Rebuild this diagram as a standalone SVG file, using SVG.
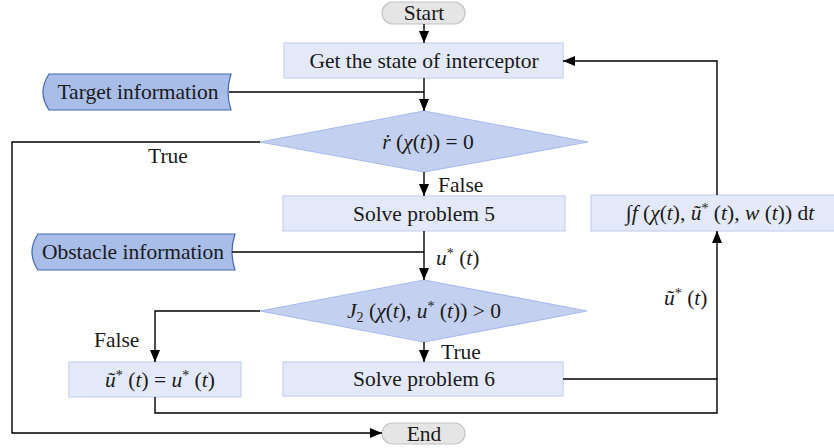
<svg xmlns="http://www.w3.org/2000/svg" width="834" height="448" viewBox="0 0 834 448" font-family="'Liberation Serif', 'DejaVu Serif', serif">
<defs>
<marker id="ah" markerUnits="userSpaceOnUse" markerWidth="12" markerHeight="10" refX="12" refY="5" orient="auto">
<path d="M0,0 L12,5 L0,10 Z" fill="#000"/>
</marker>
<style>
text{font-family:'Liberation Serif','DejaVu Serif',serif;font-size:21.5px;fill:#1a1a1a}
.c{text-anchor:middle}
.i{font-style:italic}
.sup{font-size:14px}
.box{fill:#e3e9f8;stroke:#c6d3f1;stroke-width:1.2}
.dia{fill:#c4d0f0;stroke:#a9bbea;stroke-width:1.2}
.tape{fill:#a8bde8;stroke:#4468b0;stroke-width:1.2}
.pill{fill:#e5e5e5;stroke:#c4c4c4;stroke-width:1.2}
.ln{fill:none;stroke:#000;stroke-width:1.4}
.ar{marker-end:url(#ah)}
</style>
</defs>
<g id="start"><rect class="pill" x="382" y="2" width="83" height="22" rx="11"/><text class="c" x="424" y="20">Start</text></g>
<g id="getstate"><rect class="box" x="284" y="43" width="279" height="35"/><text class="c" x="424" y="68">Get the state of interceptor</text></g>
<g id="target"><path class="tape" d="M49,74 L231,74 Q225,92 231,110 L49,110 Q37,92 49,74 Z"/><text class="c" x="138" y="99">Target information</text></g>
<g id="dec1"><path class="dia" d="M424,111 L588,142 L424,172 L260,142 Z"/><text class="c" x="428" y="149"><tspan class="i">ṙ</tspan> (<tspan class="i">χ</tspan>(<tspan class="i">t</tspan>)) = 0</text></g>
<g id="solve5"><rect class="box" x="283" y="196" width="282" height="35"/><text class="c" x="424" y="221">Solve problem 5</text></g>
<g id="obstacle"><path class="tape" d="M38,234 L235,234 Q229,252 235,270 L38,270 Q26,252 38,234 Z"/><text class="c" x="133" y="259">Obstacle information</text></g>
<g id="dec2"><path class="dia" d="M424,280 L587,311 L424,342 L260,311 Z"/><text class="c" x="424" y="318"><tspan class="i">J</tspan><tspan class="sup" dy="4">2</tspan><tspan dy="-4"> (</tspan><tspan class="i">χ</tspan>(<tspan class="i">t</tspan>), <tspan class="i">u</tspan><tspan class="sup" dy="-7">*</tspan><tspan dy="7"> (</tspan><tspan class="i">t</tspan>)) &gt; 0</text></g>
<g id="assign"><rect class="box" x="69" y="362" width="172" height="35"/><text class="c" x="160" y="387"><tspan class="i">ũ</tspan><tspan class="sup" dy="-7">*</tspan><tspan dy="7"> (</tspan><tspan class="i">t</tspan>) = <tspan class="i">u</tspan><tspan class="sup" dy="-7">*</tspan><tspan dy="7"> (</tspan><tspan class="i">t</tspan>)</text></g>
<g id="solve6"><rect class="box" x="283" y="362" width="280" height="34"/><text class="c" x="424" y="386">Solve problem 6</text></g>
<g id="integral"><rect class="box" x="591" y="195" width="250" height="36"/><text class="c" x="720" y="220">∫<tspan class="i">f</tspan> (<tspan class="i">χ</tspan>(<tspan class="i">t</tspan>), <tspan class="i">ũ</tspan><tspan class="sup" dy="-7">*</tspan><tspan dy="7"> (</tspan><tspan class="i">t</tspan>), <tspan class="i">w</tspan> (<tspan class="i">t</tspan>)) d<tspan class="i">t</tspan></text></g>
<g id="end"><rect class="pill" x="382" y="423" width="83" height="21" rx="10.5"/><text class="c" x="424" y="441">End</text></g>
<g id="connectors">
<path class="ln ar" d="M424,24 L424,43"/>
<path class="ln ar" d="M424,78 L424,111"/>
<path class="ln" d="M229,92 L424,92"/>
<path class="ln ar" d="M260,142 L12,142 L12,433 L382,433"/>
<path class="ln ar" d="M424,172 L424,196"/>
<path class="ln ar" d="M424,231 L424,280"/>
<path class="ln" d="M232,252 L424,252"/>
<path class="ln ar" d="M260,311 L155,311 L155,362"/>
<path class="ln ar" d="M424,342 L424,362"/>
<path class="ln" d="M563,379 L717,379"/>
<path class="ln ar" d="M155,397 L155,413 L717,413 L717,231"/>
<path class="ln ar" d="M717,195 L717,61 L563,61"/>
<text x="148" y="163">True</text>
<text x="438" y="192">False</text>
<text x="436" y="265"><tspan class="i">u</tspan><tspan class="sup" dy="-7">*</tspan><tspan dy="7"> (</tspan><tspan class="i">t</tspan>)</text>
<text x="94" y="347">False</text>
<text x="441" y="359">True</text>
<text x="664" y="305"><tspan class="i">ũ</tspan><tspan class="sup" dy="-7">*</tspan><tspan dy="7"> (</tspan><tspan class="i">t</tspan>)</text>
</g>
</svg>
